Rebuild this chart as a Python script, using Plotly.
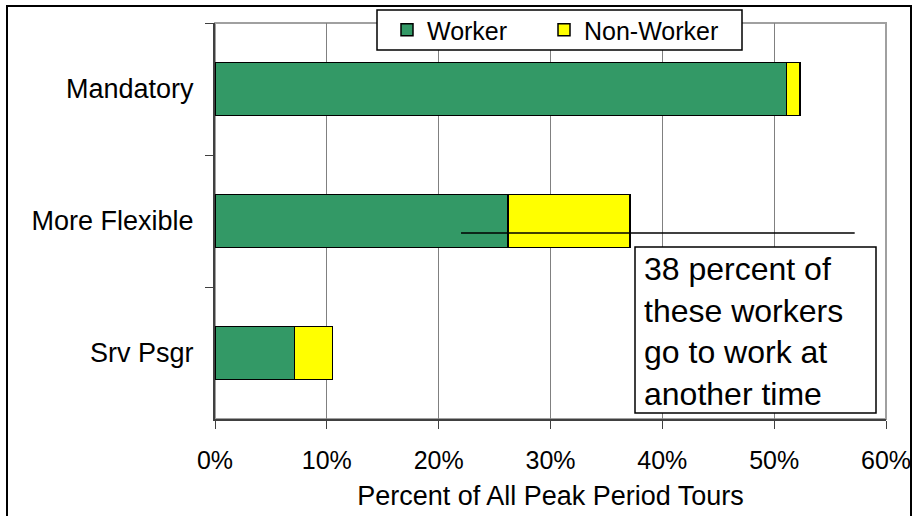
import plotly.graph_objects as go

categories = ["Mandatory", "More Flexible", "Srv Psgr"]
worker = [0.511, 0.262, 0.071]
non_worker = [0.012, 0.109, 0.034]
tick_vals = [0, 0.1, 0.2, 0.3, 0.4, 0.5, 0.6]
tick_text = ["0%", "10%", "20%", "30%", "40%", "50%", "60%"]
note_text = "38 percent of<br>these workers<br>go to work at<br>another time"

FONT = "Liberation Sans, Arial, sans-serif"

fig = go.Figure()
fig.add_trace(go.Bar(
    y=categories, x=worker, name="Worker", orientation="h", width=0.4,
    marker=dict(color="#339966", line=dict(color="black", width=1.5)),
    legend="legend",
))
fig.add_trace(go.Bar(
    y=categories, x=non_worker, name="Non-Worker", orientation="h", width=0.4,
    marker=dict(color="#FFFF00", line=dict(color="black", width=1.5)),
    legend="legend2",
))

L, R, T, B = 215, 27, 23, 97
W, H = 913, 516
pw, ph = W - L - R, H - T - B

def px_x(p):
    return (p - L) / pw

def px_y(p):
    return (H - B - p) / ph

legend_common = dict(
    orientation="h", xanchor="left", yanchor="middle",
    borderwidth=0, bgcolor="rgba(0,0,0,0)",
    font=dict(size=25), itemclick=False, itemdoubleclick=False,
)

fig.update_layout(
    width=W, height=H,
    margin=dict(l=L, r=R, t=T, b=B, autoexpand=False),
    barmode="stack",
    plot_bgcolor="white", paper_bgcolor="white",
    font=dict(family=FONT, size=26, color="black"),
    showlegend=True,
    legend=dict(x=px_x(387), y=px_y(30), **legend_common),
    legend2=dict(x=px_x(544), y=px_y(30), **legend_common),
    xaxis=dict(
        range=[0, 0.6], tickvals=tick_vals, ticktext=tick_text,
        showgrid=True, gridcolor="#808080", gridwidth=1,
        showline=True, linecolor="#404040", linewidth=2,
        ticks="outside", ticklen=8, tickcolor="#404040",
        zeroline=False, automargin=False, ticklabelstandoff=10,
        title=dict(text="Percent of All Peak Period Tours", standoff=13,
                   font=dict(size=27)),
        tickfont=dict(size=25),
    ),
    yaxis=dict(
        categoryorder="array", categoryarray=categories, autorange="reversed",
        showgrid=False, showline=True, linecolor="#404040", linewidth=2,
        ticks="outside", ticklen=8, tickcolor="#404040", tickson="boundaries",
        ticklabelstandoff=14, tickfont=dict(size=27), automargin=False,
    ),
)

# outer chart border and plot-area frame
fig.add_shape(type="rect", xref="paper", yref="paper",
              x0=px_x(7), x1=px_x(911), y0=px_y(517), y1=px_y(6),
              line=dict(color="black", width=2), layer="below")
fig.add_shape(type="rect", xref="paper", yref="paper",
              x0=0, x1=1, y0=0, y1=1,
              line=dict(color="#a0a0a0", width=2), layer="below")

# legend frame
fig.add_shape(type="rect", xref="paper", yref="paper",
              x0=px_x(377), x1=px_x(742), y0=px_y(50), y1=px_y(10),
              line=dict(color="black", width=1.5), fillcolor="white",
              layer="above")

# leader line
fig.add_shape(type="line", xref="x", yref="y",
              x0=0.22, x1=0.572, y0=1.09, y1=1.09,
              line=dict(color="black", width=1.5))

# note box
fig.add_shape(type="rect", xref="paper", yref="paper",
              x0=px_x(635), x1=px_x(876), y0=px_y(413), y1=px_y(247),
              line=dict(color="black", width=1.5), fillcolor="white",
              layer="above")

fig.add_annotation(
    text=note_text, xref="paper", yref="paper",
    x=px_x(643), y=px_y(331), xanchor="left", yanchor="middle",
    showarrow=False, align="left",
    font=dict(size=32, family=FONT),
    borderpad=0,
)

fig.write_html("out.html", config={"displayModeBar": False},
               post_script="document.body.style.margin='0';")
